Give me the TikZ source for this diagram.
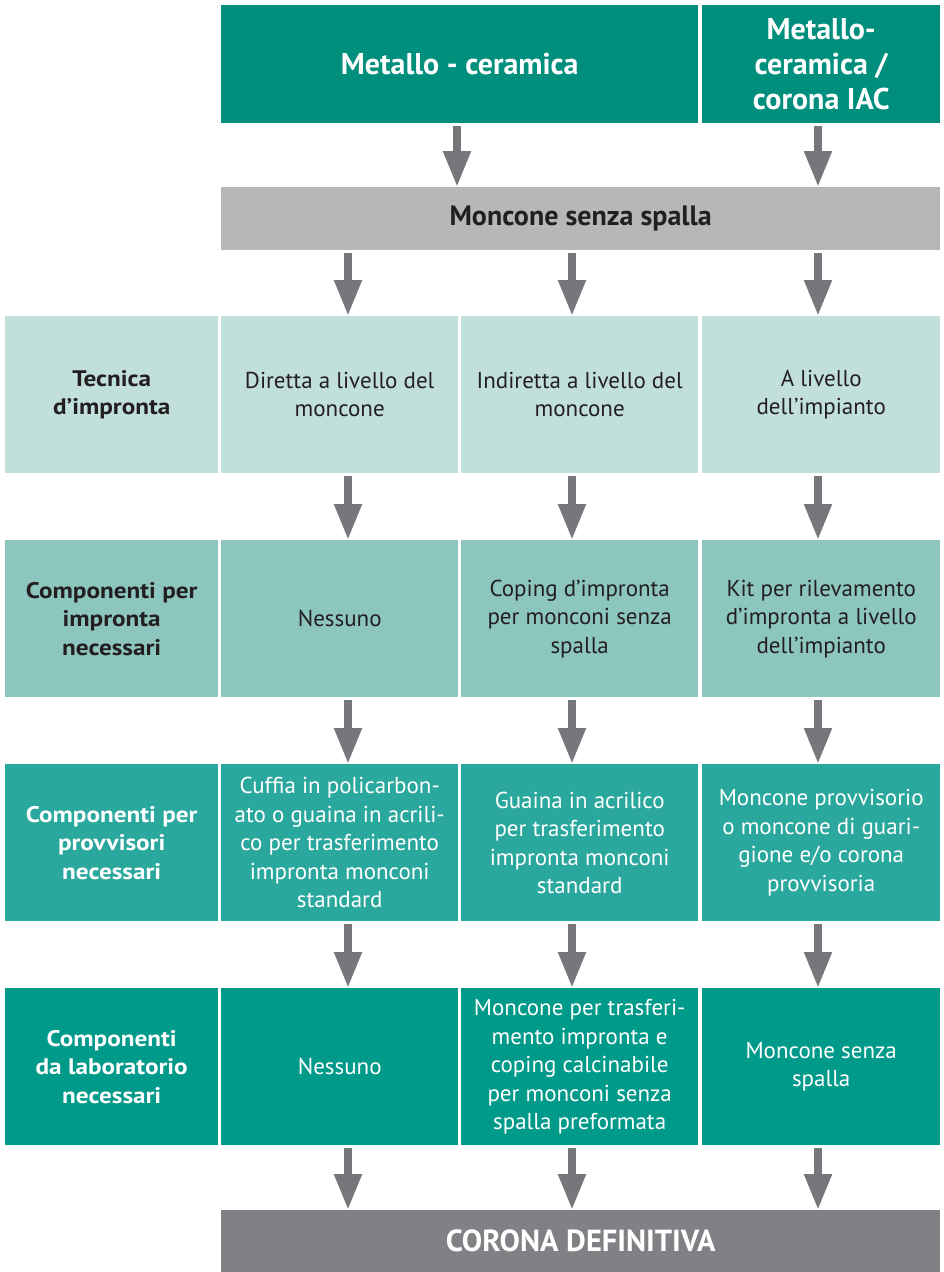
\documentclass[tikz,border=0pt]{standalone}
\usepackage{fontspec}
\setmainfont{PT Sans}
\newfontfamily\labfont[FakeStretch=1.12]{PT Sans}
\usetikzlibrary{arrows.meta}
\definecolor{hdr}{RGB}{0,143,125}
\definecolor{grayA}{RGB}{182,183,185}
\definecolor{grayB}{RGB}{128,129,133}
\definecolor{rowA}{RGB}{194,224,219}
\definecolor{rowB}{RGB}{140,198,191}
\definecolor{rowC}{RGB}{43,168,157}
\definecolor{rowD}{RGB}{0,154,138}
\definecolor{arrowc}{RGB}{118,119,123}
\definecolor{darktxt}{RGB}{35,31,32}
\newcommand\mycell[7]{\node[#6, minimum width={#4-#2}, minimum height={#5-#3}, anchor=north west] (#1) at (#2,#3) {#7};}
\begin{document}
\begin{tikzpicture}[x=1pt,y=-1pt,
  box/.style={inner sep=0pt, align=center, font=\fontsize{23}{28.5}\selectfont},
  lab/.style={box, font=\fontsize{22.5}{28.5}\selectfont\labfont\bfseries},
  hdrbox/.style={box, fill=hdr, text=white, font=\fontsize{30}{35}\selectfont\bfseries},
  rA/.style={fill=rowA, text=darktxt},
  rB/.style={fill=rowB, text=darktxt},
  rC/.style={fill=rowC, text=white},
  rD/.style={fill=rowD, text=white},
  arr/.style={draw=arrowc, line width=8pt, -{Triangle[width=26pt,length=36pt]}, shorten <=3pt}]
\useasboundingbox (0,0) rectangle (943,1272);
% header
\mycell{h1}{221}{5}{698}{123}{hdrbox}{Metallo - ceramica}
\mycell{h2}{702}{5}{940}{123}{hdrbox}{Metallo-\\ceramica /\\corona IAC}
\mycell{g}{221}{187}{940}{250}{box, fill=grayA, text=darktxt, font=\fontsize{28}{32}\selectfont\bfseries}{Moncone senza spalla}
% row 1
\mycell{a0}{5}{316}{218}{473}{lab,rA}{Tecnica\\d’impronta}
\mycell{a1}{221}{316}{458}{473}{box,rA}{Diretta a livello del\\moncone}
\mycell{a2}{461}{316}{698}{473}{box,rA}{Indiretta a livello del\\moncone}
\mycell{a3}{702}{316}{940}{473}{box,rA}{A livello\\dell’impianto}
% row 2
\mycell{b0}{5}{540}{218}{697}{lab,rB}{Componenti per\\impronta\\necessari}
\mycell{b1}{221}{540}{458}{697}{box,rB}{Nessuno}
\mycell{b2}{461}{540}{698}{697}{box,rB}{Coping d’impronta\\per monconi senza\\spalla}
\mycell{b3}{702}{540}{940}{697}{box,rB}{Kit per rilevamento\\d’impronta a livello\\dell’impianto}
% row 3
\mycell{c0}{5}{764}{218}{921}{lab,rC}{Componenti per\\provvisori\\necessari}
\mycell{c1}{221}{764}{458}{921}{box,rC}{Cuffia in policarbon-\\ato o guaina in acrili-\\co per trasferimento\\impronta monconi\\standard}
\mycell{c2}{461}{764}{698}{921}{box,rC}{Guaina in acrilico\\per trasferimento\\impronta monconi\\standard}
\mycell{c3}{702}{764}{940}{921}{box,rC}{Moncone provvisorio\\o moncone di guari-\\gione e/o corona\\provvisoria}
% row 4
\mycell{d0}{5}{988}{218}{1145}{lab,rD}{Componenti\\da laboratorio\\necessari}
\mycell{d1}{221}{988}{458}{1145}{box,rD}{Nessuno}
\mycell{d2}{461}{988}{698}{1145}{box,rD}{Moncone per trasferi-\\mento impronta e\\coping calcinabile\\per monconi senza\\spalla preformata}
\mycell{d3}{702}{988}{940}{1145}{box,rD}{Moncone senza\\spalla}
% final
\mycell{f}{221}{1210}{940}{1272}{box, fill=grayB, text=white, font=\fontsize{30.5}{34}\selectfont\bfseries}{CORONA DEFINITIVA}
% arrow columns
\coordinate (xh1) at (457,0);
\coordinate (x1) at (348,0);
\coordinate (x2) at (572,0);
\coordinate (x3) at (818,0);
\draw[arr] (h1.south -| xh1) -- (g.north -| xh1);
\draw[arr] (h2.south -| x3) -- (g.north -| x3);
\draw[arr] (g.south -| x1) -- (a1.north -| x1);
\draw[arr] (g.south -| x2) -- (a2.north -| x2);
\draw[arr] (g.south -| x3) -- (a3.north -| x3);
\draw[arr] (a1.south -| x1) -- (b1.north -| x1);
\draw[arr] (a2.south -| x2) -- (b2.north -| x2);
\draw[arr] (a3.south -| x3) -- (b3.north -| x3);
\draw[arr] (b1.south -| x1) -- (c1.north -| x1);
\draw[arr] (b2.south -| x2) -- (c2.north -| x2);
\draw[arr] (b3.south -| x3) -- (c3.north -| x3);
\draw[arr] (c1.south -| x1) -- (d1.north -| x1);
\draw[arr] (c2.south -| x2) -- (d2.north -| x2);
\draw[arr] (c3.south -| x3) -- (d3.north -| x3);
\draw[arr] (d1.south -| x1) -- (f.north -| x1);
\draw[arr] (d2.south -| x2) -- (f.north -| x2);
\draw[arr] (d3.south -| x3) -- (f.north -| x3);
\end{tikzpicture}
\end{document}
